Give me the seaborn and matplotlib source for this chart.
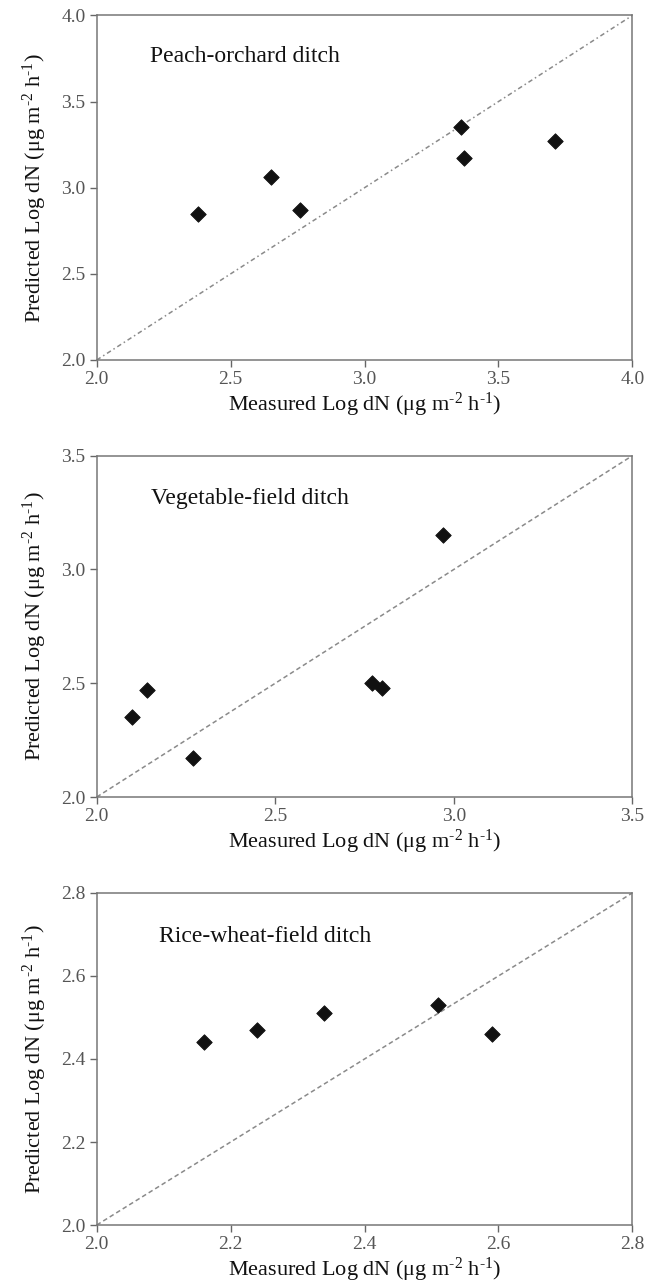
import matplotlib
matplotlib.use("Agg")
import matplotlib.pyplot as plt
import seaborn as sns
import pandas as pd

# Peach-orchard ditch
peach_measured = [2.38, 2.65, 2.76, 3.36, 3.37, 3.71]
peach_predicted = [2.85, 3.06, 2.87, 3.35, 3.17, 3.27]
# Vegetable-field ditch
veg_measured = [2.10, 2.14, 2.27, 2.77, 2.80, 2.97]
veg_predicted = [2.35, 2.47, 2.17, 2.50, 2.48, 3.15]
# Rice-wheat-field ditch
rice_measured = [2.16, 2.24, 2.34, 2.51, 2.59]
rice_predicted = [2.44, 2.47, 2.51, 2.53, 2.46]

titles = ["Peach-orchard ditch", "Vegetable-field ditch", "Rice-wheat-field ditch"]
limits = [(2.0, 4.0), (2.0, 3.5), (2.0, 2.8)]
ticks = [[2.0, 2.5, 3.0, 3.5, 4.0], [2.0, 2.5, 3.0, 3.5], [2.0, 2.2, 2.4, 2.6, 2.8]]
xlabel = r"Measured Log dN ($\mathregular{\mu}$g m$^{\text{-2}}$ h$^{\text{-1}}$)"
ylabel = r"Predicted Log dN ($\mathregular{\mu}$g m$^{\text{-2}}$ h$^{\text{-1}}$)"

sns.set_theme(style="ticks")
plt.rcParams['font.family'] = ['Liberation Serif', 'DejaVu Serif']
plt.rcParams['mathtext.fontset'] = 'custom'
plt.rcParams['mathtext.rm'] = 'Liberation Serif'
plt.rcParams['mathtext.it'] = 'Liberation Serif'
plt.rcParams['axes.unicode_minus'] = False

fig = plt.figure(figsize=(6.58, 12.88), dpi=100)
positions = [
    [0.147, 0.7205, 0.814, 0.2675],
    [0.147, 0.3812, 0.814, 0.2650],
    [0.147, 0.0489, 0.814, 0.2578],
]
text_pos = [(0.099, 0.882), (0.102, 0.874), (0.116, 0.868)]
datasets = [(peach_measured, peach_predicted), (veg_measured, veg_predicted), (rice_measured, rice_predicted)]
for i, (pos, (mx, py)) in enumerate(zip(positions, datasets)):
    ax = fig.add_axes(pos)
    df = pd.DataFrame({"m": mx, "p": py})
    lo, hi = limits[i]
    ax.plot([lo, hi], [lo, hi], color="#8a8a8a", lw=1.1,
            ls=(0, (3, 2)) if i else (0, (3, 2, 1, 2)), zorder=1)
    sns.scatterplot(data=df, x="m", y="p", marker="D", s=62, color="#111111",
                    edgecolor="#111111", ax=ax, zorder=3)
    ax.set_xlim(lo, hi)
    ax.set_ylim(lo, hi)
    ax.set_xticks(ticks[i])
    ax.set_yticks(ticks[i])
    ax.set_xticklabels(["{:.1f}".format(t) for t in ticks[i]])
    ax.set_yticklabels(["{:.1f}".format(t) for t in ticks[i]])
    ax.tick_params(axis="both", colors="#666666", labelsize=14, length=5, width=1,
                   direction="out", labelcolor="#555555", pad=3)
    ax.tick_params(top=False, right=False)
    for s in ax.spines.values():
        s.set_color("#777777")
        s.set_linewidth(1.1)
    ax.set_xlabel(xlabel, fontsize=16, color="#111111", labelpad=2)
    ax.set_ylabel(ylabel, fontsize=16, color="#111111", labelpad=9)
    ax.text(text_pos[i][0], text_pos[i][1], titles[i], transform=ax.transAxes,
            fontsize=17, color="#111111", ha="left", va="center")

fig.savefig("out.png", dpi=100)
